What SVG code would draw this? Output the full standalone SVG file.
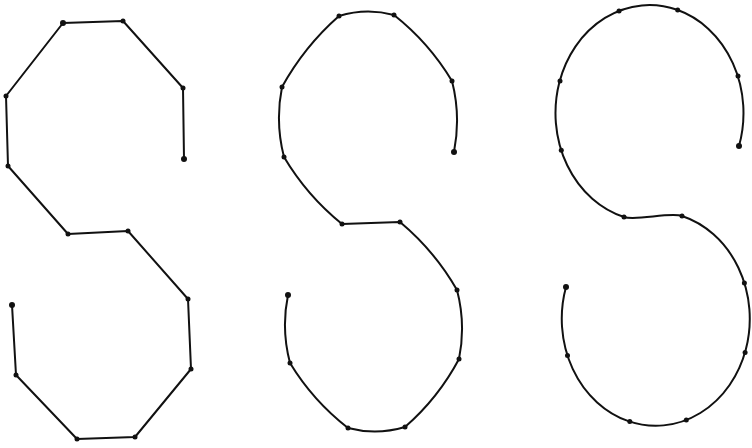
<svg xmlns="http://www.w3.org/2000/svg" width="752" height="448" viewBox="0 0 752 448">
<style>
.c{fill:none;stroke:#111;stroke-width:2;stroke-linejoin:round;stroke-linecap:round}
.k{fill:#111}
</style>
<rect width="752" height="448" fill="#fff"/>
<g id="connectors">
<polyline class="c" points="184,159 183,88 123,21 63,23 6,96 8,166 68,234 128,231 188,299 191,369 135,437 77,439 16,375 12,305"/>
<path class="c" d="M454,152 Q461,116.3 452,81 Q429,42.7 394,15 Q366.4,7.5 339,16 Q304.3,46.5 282,87 Q275,122.2 284,157 Q307,195.7 342,224 L400,222 Q434.6,250.9 457,290 Q466,324.3 459,359 Q438.3,398 405,427 Q376.6,435.5 348,428 Q313,400.8 290,363 Q281,329.2 288,295"/>
<path class="c" d="M739,146 A94,108 0 1 0 624,217 C636,221 670,212 682,216 A94,107 0 1 1 566,287"/>
</g>
<g id="s1" class="k">
<circle cx="184" cy="159" r="3"/><circle cx="183" cy="88" r="2.5"/><circle cx="123" cy="21" r="2.5"/><circle cx="63" cy="23" r="3"/><circle cx="6" cy="96" r="2.5"/><circle cx="8" cy="166" r="2.5"/><circle cx="68" cy="234" r="2.5"/><circle cx="128" cy="231" r="2.5"/><circle cx="188" cy="299" r="2.5"/><circle cx="191" cy="369" r="2.5"/><circle cx="135" cy="437" r="2.5"/><circle cx="77" cy="439" r="2.5"/><circle cx="16" cy="375" r="2.5"/><circle cx="12" cy="305" r="3"/>
</g>
<g id="s2" class="k">
<circle cx="454" cy="152" r="3"/><circle cx="452" cy="81" r="2.5"/><circle cx="394" cy="15" r="2.5"/><circle cx="339" cy="16" r="2.5"/><circle cx="282" cy="87" r="2.5"/><circle cx="284" cy="157" r="2.5"/><circle cx="342" cy="224" r="2.5"/><circle cx="400" cy="222" r="2.5"/><circle cx="457" cy="290" r="2.5"/><circle cx="459" cy="359" r="2.5"/><circle cx="405" cy="427" r="2.5"/><circle cx="348" cy="428" r="2.5"/><circle cx="290" cy="363" r="2.5"/><circle cx="288" cy="295" r="3"/>
</g>
<g id="s3" class="k">
<circle cx="739" cy="146" r="3"/><circle cx="738" cy="76" r="2.5"/><circle cx="677.7" cy="10" r="2.5"/><circle cx="619" cy="11" r="2.5"/><circle cx="560" cy="81" r="2.5"/><circle cx="561.3" cy="150.3" r="2.5"/><circle cx="624" cy="217" r="2.5"/><circle cx="682" cy="216" r="2.5"/><circle cx="744.4" cy="283" r="2.5"/><circle cx="745.1" cy="352.4" r="2.5"/><circle cx="686.3" cy="420" r="2.5"/><circle cx="629.8" cy="421.6" r="2.5"/><circle cx="567.5" cy="355.6" r="2.5"/><circle cx="566" cy="287" r="3"/>
</g>
</svg>
